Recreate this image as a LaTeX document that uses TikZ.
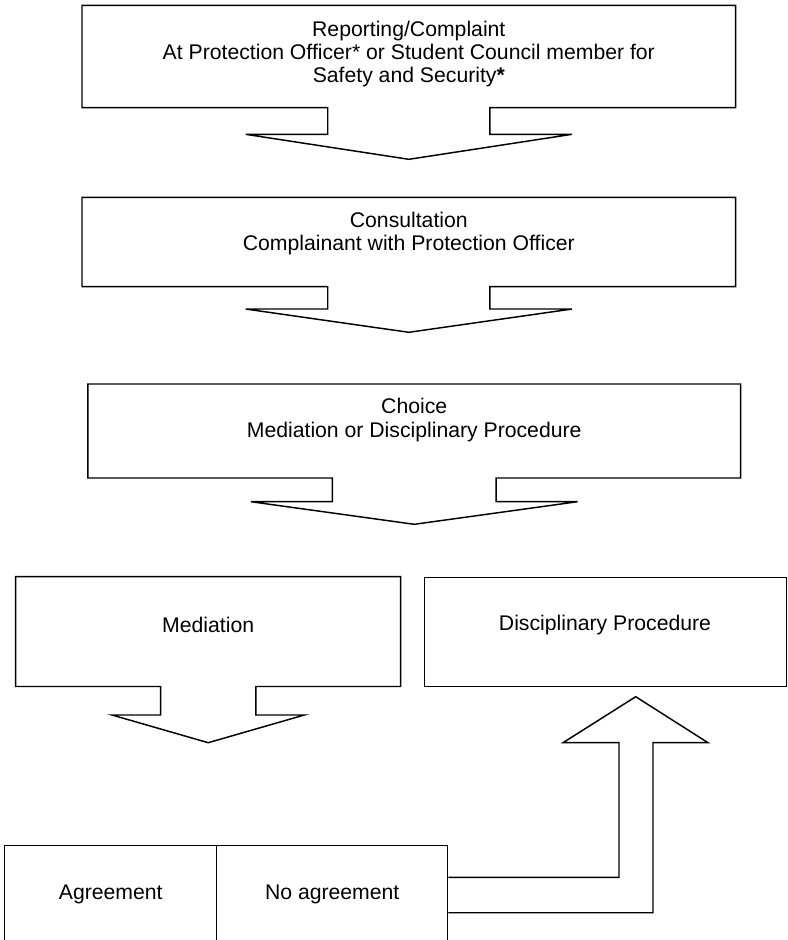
\documentclass[tikz,border=0pt]{standalone}
\usepackage{fontspec}
\setmainfont{Liberation Sans}
\usetikzlibrary{calc}

\begin{document}
\begin{tikzpicture}[x=0.75pt,y=-0.75pt,line join=miter]
  % Configurable parameters
  \def\lw{1.1pt}
  \tikzset{
    outline/.style={draw=black,line width=\lw},
    label/.style={font=\fontsize{15.9}{17.6}\selectfont,align=center,inner sep=0pt},
    plainbox/.style={outline,font=\fontsize{15.9}{17.6}\selectfont,inner sep=0pt,anchor=north west}
  }
  % left, right, top, bottom, stem half width, stem bottom, wing half width, tip
  \def\callout#1#2#3#4#5#6#7#8{%
    \draw[outline] (#1,#3) -- (#2,#3) -- (#2,#4) -- ({(#1+#2)/2+#5},#4)
      -- ({(#1+#2)/2+#5},#6) -- ({(#1+#2)/2+#7},#6) -- ({(#1+#2)/2},#8)
      -- ({(#1+#2)/2-#7},#6) -- ({(#1+#2)/2-#5},#6) -- ({(#1+#2)/2-#5},#4)
      -- (#1,#4) -- cycle;}
  \useasboundingbox (0,0) rectangle (788,940);
  %
  % Down callouts
  \callout{82}{735.7}{5.3}{107.7}{81.1}{134.3}{163.2}{159.3}
  \callout{82}{735.7}{197.3}{286.7}{81.1}{309}{163.2}{332.3}
  \callout{87.9}{740.6}{384}{478}{81.8}{501.7}{163.3}{524.3}
  \callout{15.7}{400.7}{576.7}{686.5}{47.65}{715}{96.15}{742.7}
  %
  % Labels
  \node[label] (report) at (408.8,54)
    {Reporting/Complaint\\At Protection Officer* or Student Council member for\\Safety and Security\textbf{*}};
  \node[label] (consult) at (408.8,233.3)
    {Consultation\\Complainant with Protection Officer};
  \node[label] (choice) at (414.2,420)
    {Choice\\Mediation or Disciplinary Procedure};
  \node[label] (mediation) at (208.2,625) {Mediation};
  %
  % Plain boxes
  \node[plainbox,minimum width=271.5pt,minimum height=81.75pt] (discip) at (424,576.7) {};
  \node[label] (discipText) at (605,625) {Disciplinary Procedure};
  \node[plainbox,minimum width=159pt,minimum height=72.75pt] (agree) at (4,845) {Agreement};
  \node[plainbox,minimum width=173.25pt,minimum height=72.75pt] (noagree) at (216,845) {No agreement};
  %
  % Bent arrow back up
  \draw[outline] ($(noagree.east)+(0,-16.8)$) -| (619,742.7) -- (563,742.7)
    -- (635.7,696.7) -- (708,742.7) -- (653,742.7) |- ($(noagree.east)+(0,18.5)$);
  %
\end{tikzpicture}
\end{document}
